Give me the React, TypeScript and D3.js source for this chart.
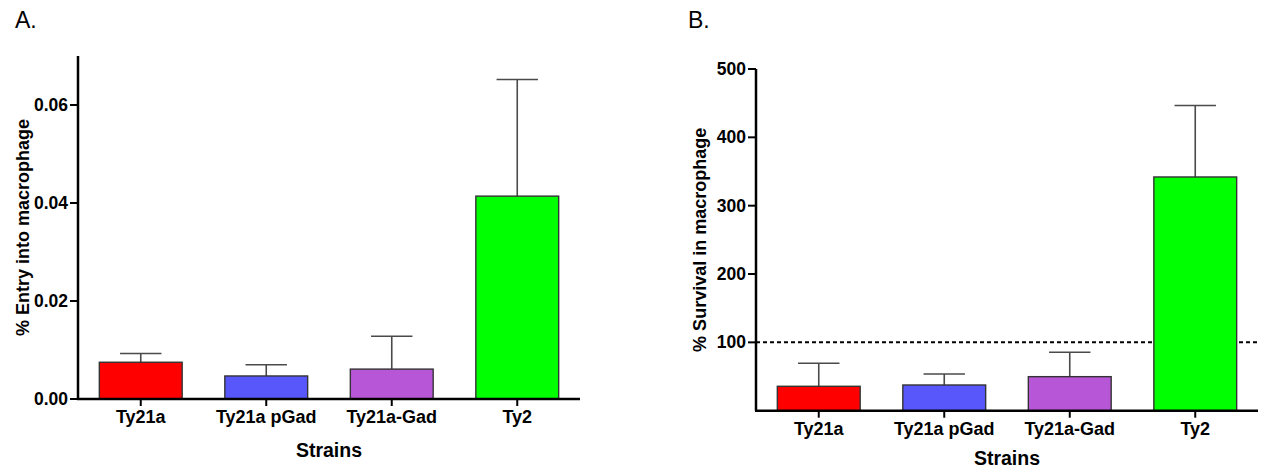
import React from 'react';
import * as d3 from 'd3';

// strains shared by both panels
const strains = ['Ty21a', 'Ty21a pGad', 'Ty21a-Gad', 'Ty2'];
const barColors = ['#ff0000', '#5757fb', '#b856d8', '#00ff00'];

// A. entry into macrophage (mean, SEM)
const entryMean = [0.0075, 0.0047, 0.0061, 0.0414];
const entrySem = [0.0018, 0.0023, 0.0067, 0.0238];
const entryTicks = [0, 0.02, 0.04, 0.06];

// B. survival in macrophage (mean, SEM)
const survivalMean = [35.7, 37.6, 49.8, 342];
const survivalSem = [33.7, 16.1, 35.7, 104.5];
const survivalTicks = [100, 200, 300, 400, 500];
const survivalRef = 100;

const FONT = '"Liberation Sans", Arial, sans-serif';

type PanelProps = {
  letter: string;
  letterX: number;
  axisX: number;
  axisEnd: number;
  top: number;
  bottom: number;
  yMax: number;
  ticks: number[];
  fmt: (v: number) => string;
  yLabel: string;
  yLabelX: number;
  titleY: number;
  means: number[];
  sems: number[];
  refLine?: number;
};

const Panel = (p: PanelProps) => {
  const x = d3.scaleBand<string>()
    .domain(strains)
    .range([p.axisX, p.axisEnd])
    .paddingInner(0.34)
    .paddingOuter(0.17);
  const y = d3.scaleLinear().domain([0, p.yMax]).range([p.bottom, p.top]);
  const bw = x.bandwidth();
  const midY = (p.top + p.bottom) / 2;

  return (
    <g>
      <text x={p.letterX} y={28} fontSize={23} fontFamily={FONT}>{p.letter}</text>

      {/* reference line */}
      {p.refLine !== undefined && (
        <line x1={p.axisX} x2={p.axisEnd} y1={y(p.refLine)} y2={y(p.refLine)}
          stroke="#000" strokeWidth={2} strokeDasharray="4,3" />
      )}

      {/* error bars (upper only) */}
      {strains.map((s, i) => {
        const cx = x(s)! + bw / 2;
        const yt = y(p.means[i] + p.sems[i]);
        return (
          <g key={'e' + s} stroke="#4a4a4a" strokeWidth={1.6}>
            <line x1={cx} x2={cx} y1={y(p.means[i])} y2={yt} />
            <line x1={cx - bw / 4} x2={cx + bw / 4} y1={yt} y2={yt} />
          </g>
        );
      })}

      {/* bars */}
      {strains.map((s, i) => (
        <rect key={'b' + s} x={x(s)} y={y(p.means[i])} width={bw}
          height={p.bottom - y(p.means[i])}
          fill={barColors[i]} stroke="#333" strokeWidth={1.4} />
      ))}

      {/* y axis */}
      <line x1={p.axisX} x2={p.axisX} y1={p.top} y2={p.bottom} stroke="#000" strokeWidth={2.5} />
      {p.ticks.map(t => (
        <g key={'t' + t}>
          <line x1={p.axisX - 8} x2={p.axisX} y1={y(t)} y2={y(t)} stroke="#000" strokeWidth={2} />
          <text x={p.axisX - 10} y={y(t)} dy="0.35em" textAnchor="end"
            fontSize={17.5} fontWeight="bold" fontFamily={FONT}>{p.fmt(t)}</text>
        </g>
      ))}
      <text transform={`translate(${p.yLabelX},${midY}) rotate(-90)`} textAnchor="middle"
        dy="0.35em" fontSize={18} fontWeight="bold" fontFamily={FONT}>{p.yLabel}</text>

      {/* x axis */}
      <line x1={p.axisX - 1} x2={p.axisEnd} y1={p.bottom} y2={p.bottom} stroke="#000" strokeWidth={2.5} />
      {strains.map(s => {
        const cx = x(s)! + bw / 2;
        return (
          <g key={'x' + s}>
            <line x1={cx} x2={cx} y1={p.bottom} y2={p.bottom + 7} stroke="#000" strokeWidth={2} />
            <text x={cx} y={p.bottom + 24} textAnchor="middle" fontSize={18}
              fontWeight="bold" fontFamily={FONT}>{s}</text>
          </g>
        );
      })}
      <text x={(p.axisX + p.axisEnd) / 2} y={p.titleY} textAnchor="middle" fontSize={19.5}
        fontWeight="bold" fontFamily={FONT}>Strains</text>
    </g>
  );
};

export default function App() {
  return (
    <div style={{ position: 'fixed', left: 0, top: 0 }}>
      <svg width={1265} height={471} style={{ display: 'block', background: '#fff' }}>
        <Panel letter="A." letterX={15} axisX={78} axisEnd={580} top={56} bottom={399}
          yMax={0.07} ticks={entryTicks} fmt={d3.format('.2f')}
          yLabel="% Entry into macrophage" yLabelX={23} titleY={457}
          means={entryMean} sems={entrySem} />
        <Panel letter="B." letterX={688} axisX={756} axisEnd={1258} top={69} bottom={410.7}
          yMax={500} ticks={survivalTicks} fmt={d3.format('d')}
          yLabel="% Survival in macrophage" yLabelX={700} titleY={465}
          means={survivalMean} sems={survivalSem} refLine={survivalRef} />
      </svg>
    </div>
  );
}
